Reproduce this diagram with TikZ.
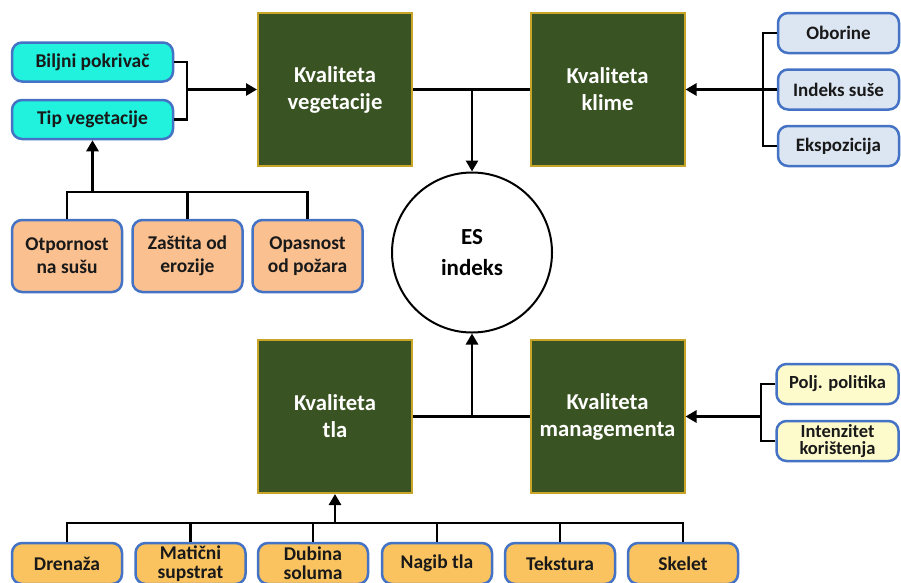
\documentclass[tikz,border=0pt]{standalone}
\usepackage{fontspec}
\setmainfont{Carlito}
\usetikzlibrary{arrows.meta}
\definecolor{kgreen}{RGB}{58,83,35}
\definecolor{kgold}{RGB}{200,165,40}
\definecolor{kcyan}{RGB}{32,242,222}
\definecolor{kblue}{RGB}{220,230,242}
\definecolor{kborder}{RGB}{68,114,196}
\definecolor{kpeach}{RGB}{250,192,144}
\definecolor{korange}{RGB}{250,195,96}
\definecolor{kyellow}{RGB}{253,251,204}
\tikzset{
  mainbox/.style={draw=kgold, line width=2pt, fill=kgreen, minimum width=154pt, minimum height=153pt,
    text=white, align=center, font=\fontsize{22.7}{27}\selectfont\bfseries, inner sep=0pt},
  smallbox/.style={draw=kborder, line width=2.5pt, rounded corners=10pt, align=center,
    inner sep=0pt, text=black!90},
  cyanbox/.style={smallbox, fill=kcyan, minimum width=161pt, minimum height=39pt,
    font=\fontsize{19.5}{22}\selectfont\bfseries},
  peachbox/.style={smallbox, fill=kpeach, minimum width=110pt, minimum height=72pt,
    font=\fontsize{19.5}{23}\selectfont\bfseries},
  bluebox/.style={smallbox, fill=kblue, minimum width=121pt, minimum height=40pt,
    font=\fontsize{19}{22}\selectfont\bfseries},
  yellowbox/.style={smallbox, fill=kyellow, minimum width=122pt, minimum height=40pt,
    font=\fontsize{18.5}{17}\selectfont\bfseries},
  orangebox/.style={smallbox, fill=korange, minimum width=110pt, minimum height=41pt,
    font=\fontsize{19.5}{19}\selectfont\bfseries},
  twoline/.style={text depth=20pt},
  conn/.style={line width=2.8pt, draw=black},
  arr/.style={conn, -{Triangle[length=11pt,width=12pt]}},
}
\begin{document}
\begin{tikzpicture}[x=1pt,y=-1pt]
\useasboundingbox[fill=white] (0,0) rectangle (901,582);

% main boxes
\node[mainbox] (veg) at (335,89.5) {Kvaliteta\\vegetacije};
\node[mainbox] (kli) at (607.5,89.5) {Kvaliteta\\klime};
\node[mainbox] (tla) at (335,416.5) {Kvaliteta\\tla};
\node[mainbox] (mgm) at (607.5,416.5) {Kvaliteta\\managementa};

% ES circle
\node[circle, draw=black, line width=2pt, fill=white, minimum size=160pt, inner sep=0pt,
  align=center, font=\fontsize{23}{31}\selectfont\bfseries] (es) at (472,252.5) {ES\\indeks};

% left cyan
\node[cyanbox] (bil) at (92.5,62) {Biljni pokrivač};
\node[cyanbox] (tip) at (92.5,119.5) {Tip vegetacije};

% peach
\node[peachbox] (otp) at (67,256) {Otpornost\\na sušu};
\node[peachbox] (zas) at (187.5,256) {Zaštita od\\erozije};
\node[peachbox] (opa) at (307.5,256) {Opasnost\\od požara};

% blue
\node[bluebox] (obo) at (838.5,33) {Oborine};
\node[bluebox] (ind) at (838.5,89.5) {Indeks suše};
\node[bluebox] (eks) at (838.5,146) {Ekspozicija};

% yellow
\node[yellowbox] (pol) at (837.5,384) {Polj. politika};
\node[yellowbox] (int) at (837.5,441) {Intenzitet\\korištenja};

% bottom orange
\node[orangebox] (dre) at (67,563.5) {Drenaža};
\node[orangebox] (mat) at (190.5,563.5) {Matični\\supstrat};
\node[orangebox] (dub) at (313,563.5) {Dubina\\soluma};
\node[orangebox] (nag) at (437,563.5) {Nagib tla};
\node[orangebox] (tek) at (560,563.5) {Tekstura};
\node[orangebox] (ske) at (683,563.5) {Skelet};

% junction coordinates
\coordinate (cj) at (187,89.5);
\coordinate (pj) at (92.5,192);
\coordinate (bj) at (763,89.5);
\coordinate (yj) at (761,416.5);
\coordinate (gj) at (335,523);

% connectors: vegetation
\draw[conn] (bil.east) -| (cj) |- (tip.east);
\draw[arr] (cj) -- (veg.west);
\draw[conn] (otp.north) |- (pj) -| (opa.north);
\draw[conn] (zas.north) -- (zas.north |- pj);
\draw[arr] (pj) -- (tip.south);

% climate
\draw[conn] (obo.west) -| (bj) |- (eks.west);
\draw[arr] (ind.west) -- (kli.east);

% management
\draw[conn] (pol.west) -| (yj) |- (int.west);
\draw[arr] (yj) -- (mgm.east);

% to ES
\draw[conn] (veg.east) -- (kli.west);
\draw[arr] (es.north |- veg.east) -- (es.north);
\draw[conn] (tla.east) -- (mgm.west);
\draw[arr] (es.south |- tla.east) -- (es.south);

% soil
\draw[conn] (dre.north) |- (gj) -| (ske.north);
\draw[conn] (mat.north) -- (mat.north |- gj);
\draw[conn] (dub.north) -- (dub.north |- gj);
\draw[conn] (nag.north) -- (nag.north |- gj);
\draw[conn] (tek.north) -- (tek.north |- gj);
\draw[arr] (gj) -- (tla.south);
\end{tikzpicture}
\end{document}
